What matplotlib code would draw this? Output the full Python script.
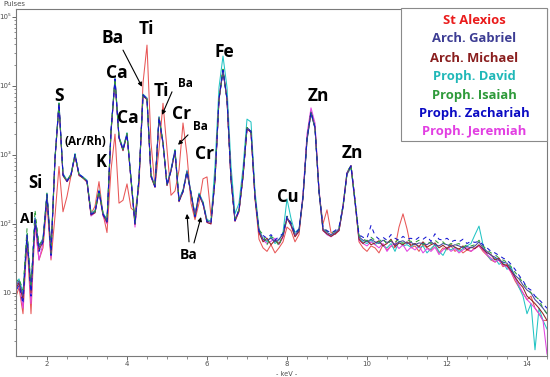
import numpy as np
import matplotlib
matplotlib.use("Agg")
import matplotlib.pyplot as plt
from matplotlib.patches import Rectangle
from matplotlib.ticker import FixedLocator, LogLocator, NullFormatter, MultipleLocator

# Energy grid (keV)
energy_kev = np.round(np.arange(1.2, 14.5001, 0.1), 2)

series_names = ["St Alexios", "Arch. Gabriel", "Arch. Michael", "Proph. David",
                "Proph. Isaiah", "Proph. Zachariah", "Proph. Jeremiah"]

alexios = [8, 12, 5, 60, 5, 100, 30, 45, 200, 30,
           130, 680, 150, 250, 500, 1000, 500, 470, 400, 140,
           180, 410, 140, 75, 600, 2000, 200, 220, 380, 170,
           150, 350, 11000, 39000, 1500, 350, 1200, 5600, 1200, 260,
           300, 600, 2900, 1000, 200, 115, 200, 450, 480, 130,
           450, 6500, 17000, 6500, 450, 110, 150, 480, 2400, 2200,
           230, 60, 45, 40, 50, 38, 45, 55, 90, 80,
           55, 70, 240, 1700, 4200, 2500, 300, 100, 160, 75,
           70, 80, 180, 550, 700, 220, 55, 45, 40, 48,
           45, 38, 50, 42, 48, 45, 90, 140, 85, 45,
           48, 40, 50, 45, 42, 50, 38, 45, 42, 48,
           40, 44, 38, 42, 40, 45, 48, 40, 35, 30,
           28, 30, 24, 26, 20, 15, 12, 10, 8, 9,
           6, 5, 4, 4]

gabriel = [12, 15, 9, 70, 11, 120, 45, 60, 270, 40,
           900, 5500, 520, 420, 520, 1000, 520, 470, 420, 140,
           150, 300, 140, 110, 2200, 12500, 1800, 1200, 2000, 450,
           100, 450, 7500, 6500, 500, 350, 3500, 1500, 370, 600,
           1150, 220, 300, 580, 280, 130, 270, 200, 110, 105,
           450, 6500, 17000, 6500, 450, 115, 160, 500, 2500, 2200,
           250, 80, 60, 58, 62, 55, 60, 70, 125, 100,
           70, 80, 250, 1700, 4200, 2500, 300, 85, 75, 70,
           75, 85, 180, 550, 700, 220, 65, 58, 55, 60,
           55, 52, 58, 54, 56, 50, 55, 57, 52, 54,
           50, 53, 52, 50, 55, 50, 48, 52, 50, 47,
           50, 48, 45, 47, 45, 48, 55, 45, 40, 35,
           33, 30, 28, 27, 22, 18, 16, 13, 11, 10,
           8, 7, 6, 5]

michael = [11, 14, 8, 65, 10, 110, 42, 55, 260, 38,
           870, 5300, 500, 410, 500, 980, 510, 460, 410, 135,
           145, 290, 135, 105, 2100, 12000, 1750, 1150, 1950, 430,
           98, 440, 7200, 6300, 480, 340, 3400, 1450, 360, 580,
           1100, 210, 290, 560, 270, 125, 260, 195, 105, 100,
           430, 6300, 16500, 6300, 430, 110, 155, 480, 2400, 2100,
           240, 75, 55, 62, 50, 58, 52, 66, 120, 95,
           65, 78, 240, 1650, 4100, 2450, 290, 80, 72, 66,
           72, 80, 175, 530, 690, 210, 60, 52, 58, 50,
           53, 57, 48, 52, 60, 47, 53, 50, 55, 49,
           52, 47, 55, 46, 50, 53, 45, 49, 44, 50,
           46, 43, 48, 42, 46, 44, 50, 43, 38, 36,
           30, 32, 26, 25, 21, 17, 14, 12, 9, 8,
           7, 6, 5, 4]

david = [13, 16, 10, 72, 12, 125, 48, 62, 280, 42,
         920, 5700, 540, 430, 530, 1050, 530, 480, 430, 145,
         155, 310, 145, 115, 2300, 13000, 1850, 1250, 2100, 470,
         105, 470, 7600, 6700, 520, 360, 3600, 1550, 380, 620,
         1200, 230, 310, 600, 290, 135, 280, 210, 115, 110,
         700, 9500, 27000, 9500, 700, 140, 200, 650, 3300, 3000,
         300, 85, 60, 55, 65, 52, 58, 75, 230, 120,
         75, 85, 240, 1600, 4000, 2400, 290, 82, 70, 68,
         72, 82, 170, 520, 650, 200, 62, 55, 52, 58,
         50, 55, 48, 45, 52, 40, 56, 48, 50, 46,
         52, 45, 48, 38, 44, 50, 40, 35, 45, 42,
         46, 40, 44, 48, 52, 70, 93, 50, 36, 30,
         32, 26, 28, 22, 24, 17, 12, 9, 5, 7,
         1.5, 6, 4, 3]

isaiah = [14, 16, 11, 85, 12, 160, 50, 58, 290, 36,
          880, 5600, 510, 425, 515, 1020, 515, 465, 425, 145,
          150, 305, 145, 112, 2250, 12800, 1820, 1220, 2050, 460,
          102, 460, 7400, 6500, 510, 355, 3550, 1520, 375, 610,
          1170, 225, 305, 590, 285, 132, 275, 205, 112, 108,
          460, 6600, 17500, 6600, 460, 118, 162, 505, 2500, 2250,
          255, 82, 70, 50, 66, 60, 48, 72, 130, 105,
          72, 82, 255, 1720, 4250, 2520, 305, 88, 78, 74,
          78, 88, 185, 560, 710, 225, 68, 60, 57, 64,
          58, 55, 62, 50, 58, 54, 60, 52, 58, 56,
          54, 58, 50, 56, 52, 58, 52, 55, 48, 52,
          50, 52, 46, 50, 48, 50, 58, 48, 42, 38,
          36, 32, 30, 28, 24, 20, 17, 14, 12, 10,
          9, 8, 6, 5]

zachariah = [10, 13, 7, 68, 9, 112, 40, 55, 265, 35,
             890, 5550, 515, 415, 520, 1010, 525, 475, 415, 138,
             148, 298, 138, 108, 2180, 12600, 1790, 1190, 1990, 445,
             99, 455, 7350, 6450, 495, 345, 3480, 1490, 365, 595,
             1140, 215, 295, 575, 278, 128, 268, 198, 108, 103,
             445, 6450, 16800, 6450, 445, 112, 158, 495, 2480, 2180,
             248, 78, 68, 62, 70, 58, 66, 72, 128, 102,
             72, 84, 250, 1690, 4180, 2490, 298, 88, 80, 74,
             80, 90, 182, 548, 695, 218, 70, 64, 62, 95,
             68, 60, 64, 58, 70, 62, 58, 66, 60, 62,
             58, 64, 60, 66, 56, 72, 60, 58, 62, 55,
             58, 55, 60, 52, 56, 54, 56, 50, 45, 40,
             38, 35, 32, 30, 26, 22, 18, 15, 12, 11,
             9, 8, 7, 6]

jeremiah = [11, 14, 6, 66, 7, 100, 30, 52, 260, 32,
            880, 5450, 505, 410, 510, 990, 515, 465, 410, 130,
            145, 295, 130, 100, 2150, 12300, 1770, 1170, 1970, 440,
            90, 445, 7300, 6400, 490, 340, 3450, 1480, 360, 590,
            1130, 215, 292, 570, 275, 127, 265, 195, 105, 100,
            440, 6400, 16800, 6400, 440, 110, 152, 490, 2450, 2150,
            245, 75, 58, 52, 56, 62, 50, 64, 122, 96,
            66, 78, 270, 2000, 4800, 2900, 320, 80, 70, 65,
            72, 80, 178, 540, 690, 215, 58, 52, 48, 55,
            50, 45, 52, 40, 48, 52, 44, 50, 40, 46,
            42, 48, 38, 44, 40, 46, 36, 42, 46, 40,
            44, 38, 42, 45, 40, 44, 48, 42, 36, 32,
            28, 30, 25, 24, 20, 16, 13, 10, 8, 7,
            6, 5, 4, 1.3]

line_colors = {"St Alexios": "#e85656", "Arch. Gabriel": "#45459e", "Arch. Michael": "#8e2424",
               "Proph. David": "#22c4c4", "Proph. Isaiah": "#2f9e3c", "Proph. Zachariah": "#1414d2",
               "Proph. Jeremiah": "#e244e2"}
text_colors = {"St Alexios": "#ea1c1c", "Arch. Gabriel": "#3d3d94", "Arch. Michael": "#8a1f1f",
               "Proph. David": "#20b8b8", "Proph. Isaiah": "#2e9a3a", "Proph. Zachariah": "#0b0bc4",
               "Proph. Jeremiah": "#e23ee2"}
line_styles = {"St Alexios": "-", "Proph. David": "-", "Proph. Jeremiah": "-",
               "Arch. Michael": "-", "Arch. Gabriel": "-",
               "Proph. Isaiah": (0, (4, 4)), "Proph. Zachariah": (4, (4, 4))}

series_data = {"St Alexios": alexios, "Arch. Gabriel": gabriel, "Arch. Michael": michael,
               "Proph. David": david, "Proph. Isaiah": isaiah, "Proph. Zachariah": zachariah,
               "Proph. Jeremiah": jeremiah}
draw_order = ["St Alexios", "Proph. David", "Proph. Jeremiah", "Arch. Michael",
              "Arch. Gabriel", "Proph. Isaiah", "Proph. Zachariah"]

W, H = 550, 377
fig = plt.figure(figsize=(W / 100, H / 100), dpi=100)
ax = fig.add_axes([16 / W, 1 - 356 / H, (547 - 16) / W, (356 - 9) / H])

for name in draw_order:
    ax.plot(energy_kev, series_data[name], color=line_colors[name], lw=0.75,
            linestyle=line_styles[name])

ax.set_yscale("log")
ax.set_xlim(1.225, 14.5)
ax.set_ylim(1.22, 1.3e5)

grey = "#7a7a7a"
for sp in ax.spines.values():
    sp.set_color(grey)
    sp.set_linewidth(0.8)

ax.xaxis.set_major_locator(FixedLocator([2, 4, 6, 8, 10, 12, 14]))
ax.xaxis.set_minor_locator(MultipleLocator(0.5))
ax.yaxis.set_major_locator(FixedLocator([10, 100, 1000, 1e4, 1e5]))
ax.yaxis.set_minor_locator(LogLocator(base=10, subs=np.arange(2, 10)))
ax.yaxis.set_minor_formatter(NullFormatter())
ax.set_xticklabels(["2", "4", "6", "8", "10", "12", "14"])
ax.set_yticklabels(["10", "10²", "10³", "10⁴", "10⁵"])
ax.tick_params(axis="both", which="major", labelsize=5, colors="#505050", length=3, width=0.6, pad=0.8)
ax.tick_params(axis="both", which="minor", length=1.8, width=0.5, colors="#606060")
for t in ax.get_xticklabels() + ax.get_yticklabels():
    t.set_color("#505050")

fig.text(3 / W, 1 - 4.5 / H, "Pulses", fontsize=5, color="#505050", va="center", ha="left")
fig.text(287 / W, 1 - 373.5 / H, "- keV -", fontsize=4.8, color="#505050", va="center", ha="center")

lab = dict(color="black", fontweight="bold", family=["Open Sans", "DejaVu Sans"], ha="center", va="center")
labels_big = [("Al", 1.50, 118, 10), ("Si", 1.70, 390, 12), ("S", 2.30, 7200, 12.5),
              ("(Ar/Rh)", 2.95, 1550, 8.5), ("K", 3.35, 790, 12), ("Ca", 3.75, 15500, 12.5),
              ("Ca", 4.025, 3440, 12.5), ("Ba", 3.65, 50000, 12.5), ("Ti", 4.475, 67000, 12.5),
              ("Ti", 4.85, 8500, 12.5), ("Ba", 5.45, 11000, 8.5), ("Cr", 5.375, 3900, 12.5),
              ("Ba", 5.825, 2570, 8.5), ("Cr", 5.95, 1030, 12.5), ("Fe", 6.425, 31000, 12.5),
              ("Cu", 8.025, 245, 12), ("Zn", 8.775, 7200, 12.5), ("Zn", 9.625, 1070, 12.5),
              ("Ba", 5.55, 35, 10)]
for txt, x, y, fs in labels_big:
    ax.text(x, y, txt, fontsize=fs, **lab)

arrows = [((3.9, 33000), (4.375, 9700)), ((5.125, 8200), (4.875, 3800)),
          ((5.525, 1950), (5.275, 1400)), ((5.55, 55), (5.5, 140)), ((5.675, 53), (5.85, 126))]
for (tx, ty), (hx, hy) in arrows:
    ax.annotate("", xy=(hx, hy), xytext=(tx, ty),
                arrowprops=dict(arrowstyle="-|>", color="black", lw=0.8, mutation_scale=6,
                                shrinkA=0, shrinkB=0))

# legend box
fig.patches.append(Rectangle((401 / W, 1 - 141 / H), (547 - 401) / W, (141 - 8) / H,
                             transform=fig.transFigure, facecolor="white", edgecolor="#8a8a8a",
                             lw=0.8, zorder=5))
legend_y = [20, 39, 58, 76.5, 95, 113.5, 131.5]
for name, yy in zip(series_names, legend_y):
    fig.text(474 / W, 1 - yy / H, name, fontsize=9.4, fontweight="bold", color=text_colors[name],
             family=["Open Sans", "DejaVu Sans"], ha="center", va="center", zorder=6)

fig.savefig("out.png", dpi=100)
